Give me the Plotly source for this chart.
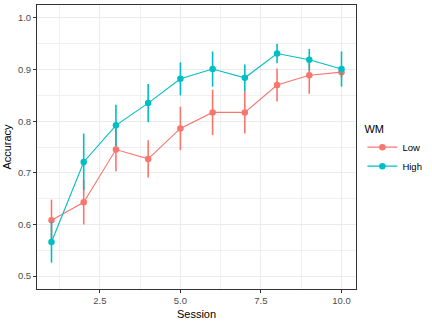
import plotly.graph_objects as go

session = [1, 2, 3, 4, 5, 6, 7, 8, 9, 10]
low_acc = [0.608, 0.643, 0.745, 0.727, 0.786, 0.817, 0.817, 0.870, 0.889, 0.895]
low_err = [0.040, 0.043, 0.042, 0.036, 0.042, 0.044, 0.041, 0.032, 0.036, 0.012]
high_acc = [0.566, 0.721, 0.792, 0.835, 0.882, 0.901, 0.884, 0.931, 0.919, 0.901]
high_err = [0.040, 0.055, 0.040, 0.037, 0.032, 0.034, 0.026, 0.019, 0.021, 0.034]
groups = ["Low", "High"]
colors = ["#F8766D", "#00BFC4"]

fig = go.Figure()
for name, acc, err, col in zip(groups, [low_acc, high_acc], [low_err, high_err], colors):
    fig.add_trace(go.Scatter(
        x=session, y=acc, name=name, mode="lines+markers",
        line=dict(color=col, width=1.1),
        marker=dict(color=col, size=6.5, symbol="circle"),
        error_y=dict(type="data", array=err, visible=True, color=col, thickness=1.6, width=0),
    ))

font = "Liberation Sans, Arial, sans-serif"
axis_common = dict(
    showgrid=True, gridcolor="#EBEBEB", gridwidth=1,
    showline=True, linecolor="#333333", linewidth=1, mirror=True,
    ticks="outside", ticklen=3, tickcolor="#333333", tickwidth=1,
    tickfont=dict(family=font, size=9.5, color="#4D4D4D"),
    zeroline=False,
    minor=dict(showgrid=True, gridcolor="#F0F0F0", gridwidth=0.7),
)
fig.update_layout(
    width=432, height=324,
    margin=dict(l=37, r=70, t=5, b=35),
    paper_bgcolor="white", plot_bgcolor="white",
    font=dict(family=font, size=11, color="black"),
    xaxis=dict(range=[0.55, 10.45], tickvals=[2.5, 5.0, 7.5, 10.0],
               ticktext=["2.5", "5.0", "7.5", "10.0"],
               title=dict(text="Session", standoff=4, font=dict(size=11)), **axis_common),
    yaxis=dict(range=[0.475, 1.025], tickvals=[0.5, 0.6, 0.7, 0.8, 0.9, 1.0],
               ticktext=["0.5", "0.6", "0.7", "0.8", "0.9", "1.0"],
               title=dict(text="Accuracy", standoff=4, font=dict(size=11)), **axis_common),
    legend=dict(title=dict(text="WM", font=dict(size=11)), x=1.02, y=0.49, xanchor="left", yanchor="middle",
                font=dict(size=9.5), itemwidth=30, tracegroupgap=2),
    showlegend=True,
)
fig.update_xaxes(minor=dict(tickvals=[1.25, 3.75, 6.25, 8.75]))
fig.update_yaxes(minor=dict(tickvals=[0.55, 0.65, 0.75, 0.85, 0.95]))
fig.write_html("out.html")
